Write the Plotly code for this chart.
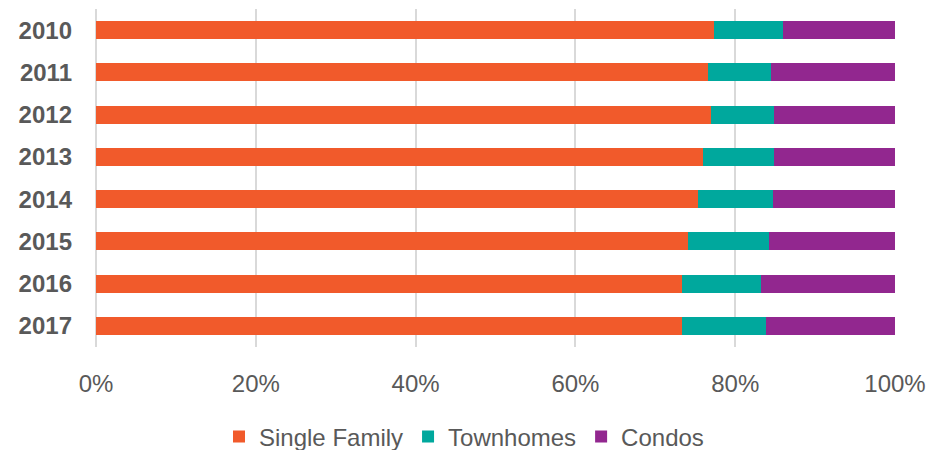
import plotly.graph_objects as go

years = ["2010", "2011", "2012", "2013", "2014", "2015", "2016", "2017"]
single_family = [77.3, 76.6, 77.0, 76.0, 75.3, 74.1, 73.3, 73.3]
townhomes = [8.7, 7.9, 7.8, 8.8, 9.4, 10.1, 9.9, 10.6]
condos = [14.0, 15.5, 15.2, 15.2, 15.3, 15.8, 16.8, 16.1]
x_ticks = [0, 20, 40, 60, 80, 100]
x_tick_labels = ["0%", "20%", "40%", "60%", "80%", "100%"]

series = [
    ("Single Family", single_family, "#F15A2B"),
    ("Townhomes", townhomes, "#00A89D"),
    ("Condos", condos, "#92278F"),
]

fig = go.Figure()
for name, vals, color in series:
    fig.add_trace(go.Bar(
        y=years, x=vals, name=name, orientation="h",
        marker=dict(color=color, line=dict(width=0)),
    ))

font_family = "Liberation Sans, Arial, sans-serif"
W, H = 928, 450
fig.update_layout(
    barmode="stack",
    bargap=0.57,
    width=W, height=H,
    margin=dict(l=96, r=33, t=9, b=103),
    paper_bgcolor="white", plot_bgcolor="white",
    font=dict(family=font_family, color="#595959", size=24),
    legend=dict(
        orientation="h", xref="container", x=0.5, xanchor="center",
        yref="container", y=1 - 437 / H, yanchor="middle",
        font=dict(size=24, color="#595959"),
        traceorder="normal", itemwidth=30,
    ),
    showlegend=True,
)
fig.update_xaxes(
    range=[0, 100], tickmode="array", tickvals=x_ticks, ticktext=x_tick_labels,
    showgrid=True, gridcolor="#D9D9D9", gridwidth=2,
    zeroline=True, zerolinecolor="#D9D9D9", zerolinewidth=2,
    ticks="", tickfont=dict(size=24, color="#595959"),
    showline=False, automargin=False, ticklabelstandoff=20,
)
fig.update_yaxes(
    autorange="reversed", categoryorder="array", categoryarray=years,
    ticks="", showgrid=False, ticklabelstandoff=23, automargin=False,
    tickfont=dict(size=24, color="#595959", family=font_family, weight="bold"),
)
fig.write_html(
    "out.html",
    config={"displayModeBar": False},
    post_script="document.body.style.margin='0';document.body.style.overflow='hidden';",
)
